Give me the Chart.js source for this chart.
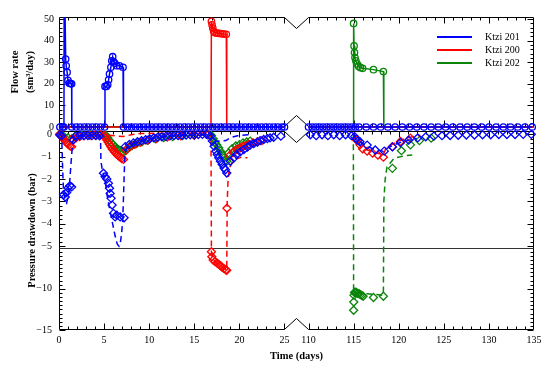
<!DOCTYPE html>
<html>
<head>
<meta charset="utf-8">
<script src="https://cdn.jsdelivr.net/npm/chart.js@4.4.1/dist/chart.umd.min.js"></script>
<style>
html, body { margin: 0; padding: 0; background: #fff; }
#wrap { position: relative; width: 550px; height: 368px; }
#wrap canvas { position: absolute; left: 0; top: 0; }
</style>
</head>
<body>
<div id="wrap">
  <canvas id="flow" width="550" height="368"></canvas>
  <canvas id="pres" width="550" height="368"></canvas>
</div>
<script>
// ---- data: [time (days), value] ----
const wells = ['Ktzi 201', 'Ktzi 200', 'Ktzi 202'];
const xTickDays = [0, 5, 10, 15, 20, 25, 110, 115, 120, 125, 130, 135];
const flowTicks = [0, 10, 20, 30, 40, 50];
const presTicks = [0, -1, -2, -3, -4, -5, -10, -15];

// flow rate (sm3/day)
const flow201 = [
  [0.1,0],[0.4,0],[0.55,0],[0.58,80],[0.74,31.5],[0.8,28.4],[0.9,25.4],[1.0,21.6],[1.15,20.3],[1.3,20.0],[1.4,20.0],[1.42,0],
  [1.9,0],[2.35,0],[2.8,0],[3.25,0],[3.7,0],[4.15,0],[4.6,0],[5.05,0],
  [5.1,18.8],[5.25,18.8],[5.4,19.6],[5.5,21.9],[5.6,24.6],[5.75,27.7],[5.85,30.7],[5.95,32.6],[6.05,30.3],[6.2,29.5],[6.4,28.4],[6.7,28.4],[7.1,27.7],[7.15,0],
  [7.6,0],[8.05,0],[8.5,0],[8.95,0],[9.4,0],[9.85,0],[10.3,0],[10.75,0],[11.2,0],[11.65,0],[12.1,0],[12.55,0],[13.0,0],[13.45,0],
  [13.9,0],[14.35,0],[14.8,0],[15.25,0],[15.7,0],[16.15,0],[16.6,0],[17.05,0],[17.5,0],[17.95,0],[18.4,0],[18.85,0],[19.3,0],
  [19.75,0],[20.2,0],[20.65,0],[21.1,0],[21.55,0],[22.0,0],[22.45,0],[22.9,0],[23.35,0],[23.8,0],[24.25,0],[24.7,0],[25.0,0],
  [110.0,0],[110.4,0],[110.8,0],[111.2,0],[111.6,0],[112.0,0],[112.4,0],[112.8,0],[113.2,0],[113.6,0],[114.0,0],[114.4,0],[114.8,0],
  [115.2,0],[115.6,0],[116.4,0],[117.2,0],[118.0,0],[118.8,0],[119.6,0],[120.4,0],[121.2,0],[122.0,0],[122.8,0],[123.6,0],[124.4,0],
  [125.2,0],[126.0,0],[126.8,0],[127.6,0],[128.4,0],[129.2,0],[130.0,0],[130.8,0],[131.6,0],[132.4,0],[133.2,0],[134.0,0],[134.8,0]
];
const flow200 = [
  [0,0],[16.85,0],[16.9,49],[16.97,47.4],[17.05,45.9],[17.15,44.4],[17.3,43.7],[17.5,43.5],[17.7,43.4],[17.9,43.3],
  [18.1,43.2],[18.3,43.1],[18.55,43.0],[18.6,0],[25,0],[110,0],[135,0]
];
const flow202 = [
  [0,0],[25,0],[110,0],[114.97,0],[115.0,48],[115.05,37.6],[115.1,34.5],[115.15,32.2],[115.25,30.7],[115.4,29.2],
  [115.55,28.2],[115.75,27.5],[116.0,27.2],[117.2,26.6],[118.3,25.7],[118.35,0],[135,0]
];

// pressure drawdown (bar): measured (diamonds) and model (dashed)
const pres201 = [
  [0.1,-0.03],[0.3,-0.06],[0.5,-2.7],[0.7,-2.8],[0.85,-2.6],[1.0,-2.4],[1.2,-2.3],[1.4,-2.35],[1.55,-0.25],[1.85,-0.08],
  [2.3,-0.05],[2.75,-0.06],[3.2,-0.05],[3.65,-0.06],[4.1,-0.05],[4.5,-0.07],
  [4.93,-1.74],[5.11,-1.89],[5.3,-2.0],[5.48,-2.19],[5.6,-2.41],[5.67,-2.64],[5.78,-2.86],[5.89,-3.16],[6.04,-3.53],
  [6.22,-3.69],[6.41,-3.61],[6.78,-3.69],[7.22,-3.73],
  [7.35,-0.55],[7.8,-0.45],[8.25,-0.38],[8.7,-0.33],[9.15,-0.28],[9.6,-0.24],[10.05,-0.2],[10.5,-0.16],[10.95,-0.13],
  [11.4,-0.11],[11.85,-0.09],[12.3,-0.07],[12.75,-0.06],[13.2,-0.05],[13.65,-0.04],[14.1,-0.03],[14.55,-0.02],[15.0,-0.02],
  [15.45,-0.01],[15.9,0],[16.35,0],
  [16.8,-0.08],[17.0,-0.3],[17.2,-0.53],[17.4,-0.75],[17.55,-0.9],[17.7,-1.05],[17.9,-1.2],[18.1,-1.35],[18.3,-1.5],
  [18.45,-1.58],[18.6,-1.73],
  [19.0,-1.2],[19.4,-1.05],[19.7,-0.9],[20.1,-0.78],[20.5,-0.68],[20.9,-0.57],[21.2,-0.48],[21.6,-0.41],[22.0,-0.35],
  [22.3,-0.28],[22.7,-0.23],[23.1,-0.19],[23.4,-0.16],[23.8,-0.13],[24.6,-0.08],
  [110.2,-0.02],[110.85,-0.06],[111.5,-0.02],[112.15,-0.06],[112.8,-0.02],[113.45,-0.06],[114.1,-0.02],[114.75,-0.06],
  [115.1,-0.1],[115.3,-0.2],[115.5,-0.28],[115.7,-0.33],[116.5,-0.48],[117.4,-0.7],[118.4,-0.75],[119.3,-0.56],[120.2,-0.37],
  [121.1,-0.26],[122.1,-0.16],[123.0,-0.11],[123.9,-0.08],[124.8,-0.06],[125.7,-0.05],[126.6,-0.04],[127.5,-0.03],[128.4,-0.03],
  [129.3,-0.02],[130.2,-0.02],[131.1,-0.01],[132.0,-0.01],[132.9,-0.01],[133.8,0],[134.7,0]
];
const model201 = [
  [0,0],[0.3,-0.05],[0.4,-1.5],[0.48,-2.34],[0.65,-2.9],[0.85,-3.06],[1.0,-2.8],[1.15,-2.34],[1.33,-1.3],[1.52,-0.32],
  [1.8,-0.12],[2.5,-0.06],[4.5,-0.05],[4.6,-0.1],[4.65,-1.2],[4.8,-1.6],[5.1,-2.0],[5.4,-2.9],[5.9,-3.9],[6.2,-4.5],
  [6.45,-4.9],[6.65,-5.0],[6.8,-4.85],[6.95,-4.4],[7.07,-3.8],[7.15,-2.8],[7.22,-1.9],[7.3,-1.0],[7.45,-0.65],[8,-0.45],
  [9,-0.3],[10,-0.2],[11,-0.13],[12,-0.08],[13,-0.05],[14,-0.03],[15,-0.02],[16.9,0],[17.1,-0.35],[17.8,-0.3],[18.5,-0.28],
  [19,-0.15],[19.8,-0.06],[21,-0.02],
  [115,0],[115.3,-0.25],[116,-0.42],[117,-0.62],[118.3,-0.76],[118.6,-0.65],[119.3,-0.5],[120.2,-0.36],[121.2,-0.25],[122,-0.18]
];
const pres200 = [
  [0.05,0],[0.2,-0.05],[0.35,-0.12],[0.5,-0.2],[0.65,-0.28],[0.8,-0.35],[0.95,-0.42],[1.1,-0.47],[1.25,-0.52],[1.4,-0.55],
  [1.6,-0.25],[1.9,-0.15],[2.3,-0.1],[2.8,-0.06],[3.4,-0.04],[4.0,-0.03],[4.6,-0.02],
  [5.0,-0.05],[5.15,-0.15],[5.3,-0.25],[5.45,-0.35],[5.6,-0.45],[5.75,-0.55],[5.9,-0.65],[6.05,-0.72],[6.2,-0.8],
  [6.35,-0.87],[6.5,-0.93],[6.65,-0.98],[6.8,-1.03],[6.95,-1.08],[7.15,-1.12],
  [7.45,-0.7],[7.9,-0.55],[8.4,-0.45],[9.0,-0.36],[9.8,-0.27],[10.8,-0.19],[12.0,-0.12],[13.5,-0.07],[15.0,-0.04],[16.5,-0.02],
  [16.9,-5.5],[16.95,-6.1],[17.1,-6.5],[17.3,-6.7],[17.5,-6.85],[17.7,-7.0],[17.9,-7.2],[18.1,-7.4],[18.3,-7.55],[18.5,-7.7],
  [18.6,-7.75],[18.62,-3.3],
  [18.9,-0.95],[19.3,-0.8],[19.7,-0.68],[20.1,-0.6],[20.5,-0.52],[21.0,-0.45],[21.5,-0.38],[22.0,-0.33],[22.5,-0.28],
  [115.3,-0.25],[115.7,-0.47],[116.0,-0.65],[116.5,-0.75],[117.1,-0.84],[117.7,-0.93],[118.3,-1.02],[119.3,-0.55],
  [120.2,-0.32],[121.3,-0.17]
];
const model200 = [
  [0,0],[0.6,-0.02],[1.4,-0.08],[2,-0.04],[5,-0.02],[7.1,-0.1],[8,-0.02],[9,0.04],[16.85,0.06],[16.9,-5.5],[17.0,-6.1],
  [17.3,-6.7],[17.9,-7.2],[18.5,-7.65],[18.6,-7.75],[18.65,-3.0],[18.75,-2.0],[18.9,-1.5],[19.2,-1.25],[19.6,-1.1],
  [20.2,-1.03],[20.9,-1.05],
  [114.95,0],[115.3,-0.3],[115.8,-0.55],[116.5,-0.7],[117.4,-0.82],[118.3,-0.9],[118.6,-0.6],[119.1,-0.48],[120,-0.3],
  [121,-0.15],[122.4,-0.04]
];
const pres202 = [
  [0.1,0],[0.5,-0.08],[1.0,-0.15],[1.4,-0.2],[1.8,-0.08],[2.5,-0.03],[3.5,-0.02],[4.5,-0.02],
  [5.2,-0.05],[5.4,-0.15],[5.6,-0.27],[5.8,-0.38],[6.0,-0.47],[6.2,-0.55],[6.4,-0.62],[6.6,-0.68],[6.8,-0.73],[7.0,-0.77],
  [7.15,-0.8],
  [7.4,-0.72],[7.7,-0.6],[8.1,-0.5],[8.6,-0.41],[9.2,-0.33],[9.9,-0.26],[10.7,-0.2],[11.6,-0.14],[12.6,-0.1],[13.7,-0.06],
  [15.0,-0.03],[16.5,-0.01],
  [16.9,-0.05],[17.1,-0.2],[17.3,-0.35],[17.5,-0.48],[17.7,-0.6],[17.9,-0.75],[18.1,-0.9],[18.3,-1.05],[18.5,-1.15],[18.6,-1.2],
  [18.8,-0.83],[19.2,-0.64],[19.6,-0.52],[20.0,-0.46],[20.4,-0.38],[20.8,-0.34],[21.2,-0.3],
  [115.0,-12.6],[115.02,-11.6],[115.04,-10.77],[115.1,-10.45],[115.2,-10.4],[115.3,-10.45],[115.45,-10.55],[115.6,-10.6],
  [115.75,-10.7],[115.9,-10.8],[116.05,-10.9],[117.2,-11.05],[118.3,-10.9],
  [119.3,-1.52],[120.3,-0.73],[121.3,-0.47],[122.3,-0.28],[123.6,-0.17]
];
const model202 = [
  [0,0],[0.6,-0.02],[1.4,-0.15],[2,-0.06],[5.1,-0.02],[6,-0.45],[7.1,-0.78],[7.4,-0.7],[8,-0.52],[9,-0.35],[10,-0.25],
  [12,-0.12],[14,-0.05],[16.9,-0.02],[17.5,-0.5],[18.6,-1.15],[18.9,-0.8],[19.5,-0.55],[20.5,-0.4],[21.2,-0.32],
  [114.97,0],[115.0,-10.3],[115.5,-10.5],[116.5,-10.6],[117.5,-10.7],[118.3,-10.8],[118.35,-3.0],[118.5,-2.0],[118.7,-1.45],
  [119.5,-1.07],[120.5,-0.97],[121.5,-0.92]
];

const BLUE = '#0000ff', RED = '#ff0000', GREEN = '#0a850a';
const colors = [BLUE, RED, GREEN];

// broken time axis: 0-25 and 110-135 days, with a gap between
const GAP = 24 / 9;
function tx(t) { return t <= 25 ? t : t - 110 + 25 + GAP; }
// broken pressure axis: below -5.1 bar the scale is compressed
const BRK = -5.1, K = 0.368;
function py(v) { return v >= BRK ? v : BRK + (v - BRK) * K; }
function fmt(v) { return v < 0 ? '\u2212' + (-v) : String(v); }

function toPoints(rows, fy) {
  const pts = [];
  rows.forEach((r, i) => {
    if (i > 0 && rows[i - 1][0] <= 25 && r[0] >= 110) pts.push({x: 25 + GAP / 2, y: null});
    pts.push({x: tx(r[0]), y: fy ? fy(r[1]) : r[1]});
  });
  return pts;
}

Chart.defaults.font.family = '"Liberation Serif", serif';
Chart.defaults.font.size = 10;
Chart.defaults.color = '#000';

// frame with inward ticks and break marks
const framePlugin = {
  id: 'frame',
  beforeDatasetsDraw(chart, args, opts) {
    const {ctx, chartArea: a, scales: {x, y}} = chart;
    const L = a.left + 0.5, R = a.right - 0.5, T = a.top + 0.5, B = a.bottom - 0.5;
    const xa = x.getPixelForValue(25), xb = x.getPixelForValue(25 + GAP), xm = (xa + xb) / 2;
    ctx.save();
    ctx.strokeStyle = '#000';
    ctx.lineWidth = 1;
    ctx.beginPath();
    ctx.moveTo(L, T); ctx.lineTo(xa, T); ctx.lineTo(xm, T + 11); ctx.lineTo(xb, T); ctx.lineTo(R, T);
    ctx.lineTo(R, B); ctx.lineTo(xb, B); ctx.lineTo(xm, B - 11); ctx.lineTo(xa, B); ctx.lineTo(L, B);
    ctx.closePath();
    ctx.stroke();

    ctx.beginPath();
    const days = [];
    for (let d = 1; d <= 25; d++) days.push(d);
    for (let d = 110; d < 135; d++) days.push(d);
    days.forEach(d => {
      const px = Math.round(x.getPixelForValue(tx(d))) + 0.5;
      const len = d % 5 === 0 ? 6 : 3;
      ctx.moveTo(px, T); ctx.lineTo(px, T + len);
      ctx.moveTo(px, B); ctx.lineTo(px, B - len);
    });
    opts.yTicks.forEach(([v, len]) => {
      const py_ = Math.round(y.getPixelForValue(v)) + 0.5;
      ctx.moveTo(L, py_); ctx.lineTo(L + len, py_);
      ctx.moveTo(R, py_); ctx.lineTo(R - len, py_);
    });
    ctx.stroke();

    if (opts.breakLine) {
      const yb = Math.round(y.getPixelForValue(BRK)) + 0.5;
      ctx.strokeStyle = '#333';
      ctx.beginPath();
      ctx.moveTo(L, yb); ctx.lineTo(R, yb);
      ctx.stroke();
    }
    ctx.restore();
  },
  afterDraw(chart, args, opts) {
    if (!opts.legend) return;
    const {ctx, chartArea: a} = chart;
    ctx.save();
    ctx.font = '10px "Liberation Serif"';
    ctx.textBaseline = 'middle';
    wells.forEach((name, i) => {
      const y = a.top + 20 + i * 13;
      ctx.strokeStyle = colors[i];
      ctx.lineWidth = 2;
      ctx.beginPath();
      ctx.moveTo(a.right - 97, y); ctx.lineTo(a.right - 62, y);
      ctx.stroke();
      ctx.fillStyle = '#000';
      ctx.fillText(name, a.right - 49, y);
    });
    ctx.restore();
  }
};

// ---- flow rate panel ----
const flowY = [];
for (let v = 0; v <= 50; v += 2) flowY.push([v, v % 10 === 0 ? 6 : 3]);

function flowSet(rows, color, hideZero) {
  return {
    data: toPoints(rows),
    showLine: true,
    borderColor: color,
    borderWidth: 1.5,
    pointStyle: 'circle',
    pointRadius: hideZero ? (c => (c.raw && c.raw.y === 0 ? 0 : 3.2)) : 3.2,
    pointBorderColor: color,
    pointBorderWidth: 1.3,
    pointBackgroundColor: 'rgba(0,0,0,0)',
    clip: {left: 5, top: 0, right: 5, bottom: 5}
  };
}

new Chart(document.getElementById('flow'), {
  type: 'scatter',
  data: {
    datasets: [
      flowSet(flow201, BLUE, false),
      flowSet(flow200, RED, true),
      flowSet(flow202, GREEN, true)
    ]
  },
  options: {
    responsive: false,
    animation: false,
    events: [],
    layout: {padding: {left: 0, top: 17, right: 16, bottom: 241}},
    plugins: {
      legend: {display: false},
      tooltip: {enabled: false},
      frame: {yTicks: flowY, legend: true}
    },
    scales: {
      x: {type: 'linear', display: false, min: 0, max: 50 + GAP},
      y: {
        min: 0, max: 51,
        grid: {display: false, drawTicks: false},
        border: {display: false},
        afterBuildTicks: s => { s.ticks = flowTicks.map(v => ({value: v})); },
        afterFit: s => { s.width = 59; },
        ticks: {padding: 5, callback: (v, i) => fmt(flowTicks[i])},
        title: {
          display: true,
          text: ['Flow rate', '(sm\u00b3/day)'],
          font: {size: 10.5, weight: 'bold', lineHeight: 1.4},
          padding: {top: 8, bottom: 0}
        }
      }
    }
  },
  plugins: [framePlugin]
});

// ---- pressure drawdown panel ----
const presY = [];
for (let i = 0; i <= 25; i++) presY.push([-0.2 * i, i % 5 === 0 ? 6 : 3]);
for (let i = 11; i <= 30; i++) presY.push([py(-0.5 * i), i % 10 === 0 ? 6 : 3]);

function markSet(rows, color) {
  return {
    data: toPoints(rows, py),
    showLine: false,
    pointStyle: 'rectRot',
    pointRadius: 4,
    pointBorderColor: color,
    pointBorderWidth: 1.3,
    pointBackgroundColor: 'rgba(0,0,0,0)',
    clip: {left: 5, top: 5, right: 5, bottom: 0}
  };
}
function modelSet(rows, color) {
  return {
    data: toPoints(rows, py),
    showLine: true,
    borderColor: color,
    borderWidth: 1.5,
    borderDash: [6, 4],
    pointRadius: 0,
    clip: {left: 5, top: 5, right: 5, bottom: 0}
  };
}

new Chart(document.getElementById('pres'), {
  type: 'scatter',
  data: {
    datasets: [
      markSet(pres201, BLUE),
      modelSet(model201, BLUE),
      markSet(pres200, RED),
      modelSet(model200, RED),
      markSet(pres202, GREEN),
      modelSet(model202, GREEN)
    ]
  },
  options: {
    responsive: false,
    animation: false,
    events: [],
    layout: {padding: {left: 0, top: 131, right: 16, bottom: 0}},
    plugins: {
      legend: {display: false},
      tooltip: {enabled: false},
      frame: {yTicks: presY, breakLine: true}
    },
    scales: {
      x: {
        type: 'linear', min: 0, max: 50 + GAP,
        grid: {display: false, drawTicks: false},
        border: {display: false},
        afterBuildTicks: s => { s.ticks = xTickDays.map(t => ({value: tx(t)})); },
        afterFit: s => { s.height = 38; },
        ticks: {padding: 4, autoSkip: false, maxRotation: 0, callback: (v, i) => String(xTickDays[i])},
        title: {
          display: true,
          text: 'Time (days)',
          font: {size: 10.5, weight: 'bold'},
          padding: {top: 0, bottom: 5}
        }
      },
      y: {
        min: py(-15), max: 0.15,
        grid: {display: false, drawTicks: false},
        border: {display: false},
        afterBuildTicks: s => { s.ticks = presTicks.map(v => ({value: py(v)})); },
        afterFit: s => { s.width = 59; },
        ticks: {padding: 7, callback: (v, i) => fmt(presTicks[i])},
        title: {
          display: true,
          text: 'Pressure drawdown (bar)',
          font: {size: 10.5, weight: 'bold'},
          padding: {top: 26, bottom: 0}
        }
      }
    }
  },
  plugins: [framePlugin]
});
</script>
</body>
</html>
